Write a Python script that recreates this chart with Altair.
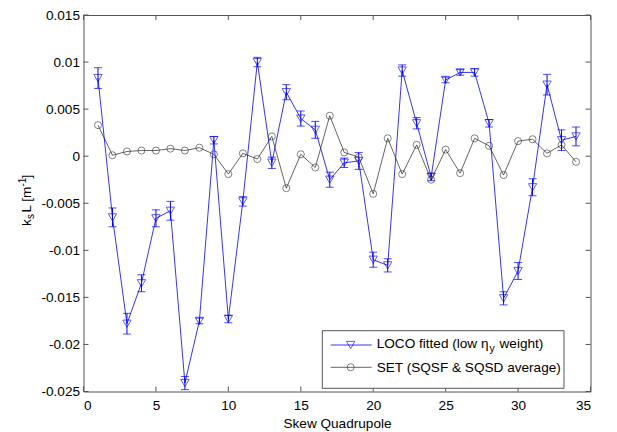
import altair as alt
import pandas as pd

# ---------------- data ----------------
quad = list(range(1, 35))
loco = [0.0083, -0.0065, -0.0178, -0.0135, -0.0066, -0.0058, -0.0241, -0.0175, 0.0017, -0.0173,
        -0.0048, 0.0100, -0.0007, 0.0068, 0.0040, 0.0028, -0.0025, -0.0007, -0.0005, -0.0110,
        -0.0116, 0.0091, 0.0035, -0.0022, 0.0081, 0.0089, 0.0089, 0.0035, -0.0151, -0.0122,
        -0.0033, 0.0076, 0.0017, 0.0021]
loco_err = [0.0011, 0.0010, 0.0011, 0.0009, 0.0009, 0.0010, 0.0007, 0.0003, 0.0004, 0.0004,
            0.0005, 0.0005, 0.0006, 0.0008, 0.0008, 0.0009, 0.0008, 0.0005, 0.0009, 0.0008,
            0.0007, 0.0006, 0.0006, 0.0004, 0.0003, 0.0003, 0.0004, 0.0004, 0.0007, 0.0009,
            0.0009, 0.0011, 0.0011, 0.0010]
set_avg = [0.0033, 0.0001, 0.0005, 0.0006, 0.0006, 0.0008, 0.0006, 0.0009, 0.0002, -0.0019,
           0.0003, -0.0003, 0.0021, -0.0034, 0.0002, -0.0012, 0.0043, 0.0004, -0.0001, -0.0040,
           0.0019, -0.0019, 0.0012, -0.0025, 0.0007, -0.0018, 0.0019, 0.0011, -0.0020, 0.0016,
           0.0018, 0.0003, 0.0012, -0.0006]

x_ticks = [0, 5, 10, 15, 20, 25, 30, 35]
y_ticks = [-0.025, -0.02, -0.015, -0.01, -0.005, 0, 0.005, 0.01, 0.015]

x_title = "Skew Quadrupole"
legend_loco = "LOCO fitted (low \u03b7"
legend_loco_sub = "y"
legend_loco_end = "weight)"
legend_set = "SET (SQSF & SQSD average)"

# ---------------- tables ----------------
df = pd.DataFrame({"q": quad, "loco": loco, "err": loco_err, "set": set_avg})
df["lo"] = df["loco"] - df["err"]
df["hi"] = df["loco"] + df["err"]
xt = pd.DataFrame({"v": x_ticks})
yt = pd.DataFrame({"v": y_ticks})
one = pd.DataFrame({"a": [0]})

W, H = 507, 376.5
FONT = "Liberation Sans"
FS = 13.6
BLUE = "#0000ff"
FRAME = "#555555"

xscale = alt.Scale(domain=[0, 35], nice=False)
yscale = alt.Scale(domain=[-0.025, 0.015], nice=False)
xaxis = alt.Axis(values=x_ticks, title=x_title, labelPadding=7, titlePadding=4,
                 titleFontSize=FS, titleFontWeight="normal", titleFont=FONT)
yaxis = alt.Axis(values=y_ticks, title=None, labelPadding=4,
                 labelExpr="'' + datum.value")


def X(f):
    return alt.X(f"{f}:Q", scale=xscale, axis=xaxis)


def Y(f):
    return alt.Y(f"{f}:Q", scale=yscale, axis=yaxis)


base = alt.Chart(df)

err_rule = base.mark_rule(color=BLUE, strokeWidth=1).encode(x=X("q"), y=Y("lo"), y2="hi:Q")
cap_lo = base.mark_tick(color=BLUE, orient="horizontal", size=8, thickness=1).encode(x=X("q"), y=Y("lo"))
cap_hi = base.mark_tick(color=BLUE, orient="horizontal", size=8, thickness=1).encode(x=X("q"), y=Y("hi"))
loco_line = base.mark_line(color=BLUE, strokeWidth=0.8).encode(x=X("q"), y=Y("loco"))
loco_pts = base.mark_point(shape="triangle-down", filled=False, color=BLUE, size=70,
                           strokeWidth=0.9).encode(x=X("q"), y=Y("loco"))
set_line = base.mark_line(color="#222222", strokeWidth=0.7).encode(x=X("q"), y=Y("set"))
set_pts = base.mark_point(shape="circle", filled=False, color="#222222", size=50,
                          strokeWidth=0.8).encode(x=X("q"), y=Y("set"))

# inward ticks on all four sides
tk = dict(color=FRAME, strokeWidth=1)
xt_bot = alt.Chart(xt).mark_rule(**tk).encode(x=X("v"), y=alt.value(H), y2=alt.value(H - 5))
xt_top = alt.Chart(xt).mark_rule(**tk).encode(x=X("v"), y=alt.value(0), y2=alt.value(5))
yt_left = alt.Chart(yt).mark_rule(**tk).encode(y=Y("v"), x=alt.value(0), x2=alt.value(5))
yt_right = alt.Chart(yt).mark_rule(**tk).encode(y=Y("v"), x=alt.value(W), x2=alt.value(W - 5))


# y-axis title built from pieces (sub/superscripts)
def vtext(txt, px, py, size):
    return alt.Chart(one).mark_text(text=txt, angle=270, align="left", baseline="alphabetic",
                                    font=FONT, fontSize=size, color="black").encode(
        x=alt.value(px), y=alt.value(py))


ytitle = [
    vtext("k", -52.5, 211.0, FS),
    vtext("s", -49.5, 204.0, 10),
    vtext("L [m", -52.5, 197.5, FS),
    vtext("-1", -57.5, 171.5, 10),
    vtext("]", -52.5, 163.5, FS),
]

# legend
lg_box = alt.Chart(one).mark_rect(fill="white", stroke=FRAME, strokeWidth=1).encode(
    x=alt.value(238.8), x2=alt.value(480.5), y=alt.value(315.7), y2=alt.value(373.3))
lg_l1 = alt.Chart(one).mark_rule(color=BLUE, strokeWidth=0.8).encode(
    x=alt.value(247.2), x2=alt.value(288.2), y=alt.value(330.0))
lg_p1 = alt.Chart(one).mark_point(shape="triangle-down", filled=False, color=BLUE, size=70,
                                  strokeWidth=0.9).encode(x=alt.value(267.2), y=alt.value(330.0))
lg_l2 = alt.Chart(one).mark_rule(color="#222222", strokeWidth=0.7).encode(
    x=alt.value(247.2), x2=alt.value(288.2), y=alt.value(352.3))
lg_p2 = alt.Chart(one).mark_point(shape="circle", filled=False, color="#222222", size=50,
                                  strokeWidth=0.8).encode(x=alt.value(267.2), y=alt.value(352.3))


def htext(txt, px, py, size, align="left"):
    return alt.Chart(one).mark_text(text=txt, align=align, baseline="alphabetic", font=FONT,
                                    fontSize=size, color="black").encode(
        x=alt.value(px), y=alt.value(py))


lg_t1 = htext(legend_loco, 293.2, 332.7, FS)
lg_t1s = htext(legend_loco_sub, 406.0, 337.3, 10.5)
lg_t1e = htext(legend_loco_end, 416.0, 332.7, FS)
lg_t2 = htext(legend_set, 293.2, 356.7, FS)

chart = alt.layer(
    err_rule, cap_lo, cap_hi, loco_line, loco_pts, set_line, set_pts,
    xt_bot, xt_top, yt_left, yt_right,
    *ytitle,
    lg_box, lg_l1, lg_p1, lg_l2, lg_p2, lg_t1, lg_t1s, lg_t1e, lg_t2,
).properties(
    width=W, height=H,
    autosize=alt.AutoSizeParams(type="none"),
    padding={"left": 75.5, "top": 7, "right": 18, "bottom": 40},
    background="white",
).configure_view(
    stroke=FRAME, strokeWidth=1
).configure_axis(
    domain=False, ticks=False, grid=False,
    labelFont=FONT, labelFontSize=FS, labelColor="black",
    titleColor="black",
)

chart.save("out.html", embed_options={"renderer": "svg", "actions": False})
